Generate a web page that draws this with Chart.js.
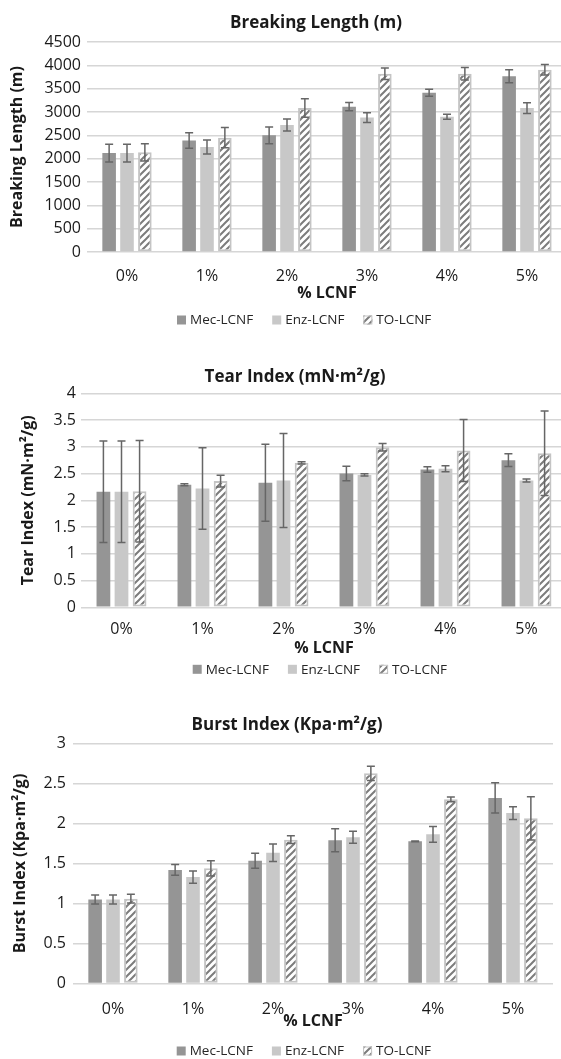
<!DOCTYPE html>
<html>
<head>
<meta charset="utf-8">
<script src="https://cdn.jsdelivr.net/npm/chart.js@4.4.1/dist/chart.umd.min.js"></script>
<style>
  html, body { margin: 0; padding: 0; background: #fff; overflow: hidden; width: 561px; height: 1059px; }
  .box { position: absolute; left: 0; width: 600px; }
</style>
</head>
<body>
<div class="box" style="top:0;height:340px"><canvas id="breaking"></canvas></div>
<div class="box" style="top:340px;height:350px"><canvas id="tear"></canvas></div>
<div class="box" style="top:690px;height:369px"><canvas id="burst"></canvas></div>
<script>
// --- data ---
const categories = ['0%', '1%', '2%', '3%', '4%', '5%'];
const seriesNames = ['Mec-LCNF', 'Enz-LCNF', 'TO-LCNF'];

const breakMec = [2120, 2390, 2500, 3115, 3415, 3765];
const breakMecErr = [190, 168, 178, 89, 75, 140];
const breakEnz = [2120, 2250, 2720, 2880, 2900, 3085];
const breakEnzErr = [190, 150, 128, 104, 54, 115];
const breakTo = [2135, 2450, 3085, 3820, 3820, 3905];
const breakToErr = [185, 218, 200, 121, 136, 111];

const tearMec = [2.16, 2.29, 2.33, 2.50, 2.575, 2.75];
const tearMecErr = [0.95, 0.02, 0.72, 0.135, 0.05, 0.12];
const tearEnz = [2.16, 2.22, 2.37, 2.475, 2.59, 2.37];
const tearEnzErr = [0.95, 0.76, 0.88, 0.02, 0.055, 0.03];
const tearTo = [2.17, 2.36, 2.70, 2.99, 2.93, 2.88];
const tearToErr = [0.95, 0.11, 0.02, 0.07, 0.58, 0.79];

const burstMec = [1.05, 1.42, 1.535, 1.79, 1.777, 2.32];
const burstMecErr = [0.055, 0.067, 0.094, 0.143, 0.005, 0.19];
const burstEnz = [1.05, 1.33, 1.635, 1.827, 1.865, 2.13];
const burstEnzErr = [0.055, 0.077, 0.11, 0.075, 0.098, 0.08];
const burstTo = [1.06, 1.44, 1.798, 2.627, 2.302, 2.065];
const burstToErr = [0.055, 0.095, 0.048, 0.09, 0.03, 0.27];

const FONT = "'Open Sans', sans-serif";
const INK = '#1a1a1a';
const MEC = '#959595';
const ENZ = '#c8c8c8';
const EDGE = '#c4c4c4';
const GRID = '#d6d6d6';
const ERR = '#666666';

function hatch() {
  const t = document.createElement('canvas');
  t.width = t.height = 7;
  const g = t.getContext('2d');
  g.fillStyle = '#fff';
  g.fillRect(0, 0, 7, 7);
  g.strokeStyle = '#7c7c7c';
  g.lineWidth = 2;
  g.beginPath();
  g.moveTo(-1, 8); g.lineTo(8, -1);
  g.moveTo(-1, 1); g.lineTo(1, -1);
  g.moveTo(6, 8); g.lineTo(8, 6);
  g.stroke();
  return g.createPattern(t, 'repeat');
}

// error bars from each dataset's `errors` list
const errorBars = {
  id: 'errorBars',
  afterDatasetsDraw(chart) {
    const { ctx, scales: { y } } = chart;
    ctx.save();
    ctx.strokeStyle = ERR;
    ctx.lineWidth = 1.5;
    chart.data.datasets.forEach((ds, i) => {
      chart.getDatasetMeta(i).data.forEach((bar, j) => {
        const hi = y.getPixelForValue(ds.data[j] + ds.errors[j]);
        const lo = y.getPixelForValue(ds.data[j] - ds.errors[j]);
        ctx.beginPath();
        ctx.moveTo(bar.x, hi); ctx.lineTo(bar.x, lo);
        ctx.moveTo(bar.x - 4, hi); ctx.lineTo(bar.x + 4, hi);
        ctx.moveTo(bar.x - 4, lo); ctx.lineTo(bar.x + 4, lo);
        ctx.stroke();
      });
    });
    ctx.restore();
  }
};

// chart title and legend row, placed like the Excel figure
const overlay = {
  id: 'overlay',
  afterDraw(chart, args, o) {
    const ctx = chart.ctx;
    ctx.save();
    ctx.fillStyle = INK;
    ctx.textBaseline = 'middle';
    ctx.textAlign = 'center';
    ctx.font = `bold 17px ${FONT}`;
    ctx.fillText(o.title, o.titleX, o.titleY);

    ctx.font = `13.5px ${FONT}`;
    ctx.textAlign = 'left';
    let x = o.legendX;
    chart.data.datasets.forEach((ds) => {
      ctx.fillStyle = ds.backgroundColor;
      ctx.fillRect(x, o.legendY - 4.5, 9, 9);
      if (ds.borderWidth) {
        ctx.strokeStyle = ds.borderColor;
        ctx.lineWidth = 1;
        ctx.strokeRect(x + 0.5, o.legendY - 4, 8, 8);
      }
      ctx.fillStyle = '#262626';
      ctx.fillText(ds.label, x + 13, o.legendY + 0.5);
      x += 13 + ctx.measureText(ds.label).width + 19;
    });
    ctx.restore();
  }
};

function makeChart(id, c) {
  return new Chart(document.getElementById(id), {
    type: 'bar',
    data: {
      labels: categories,
      datasets: [
        { label: seriesNames[0], data: c.mec, errors: c.mecErr, backgroundColor: MEC },
        { label: seriesNames[1], data: c.enz, errors: c.enzErr, backgroundColor: ENZ },
        { label: seriesNames[2], data: c.to, errors: c.toErr, backgroundColor: hatch(),
          borderColor: EDGE, borderWidth: 2, borderSkipped: false },
      ],
    },
    options: {
      responsive: true,
      maintainAspectRatio: false,
      animation: false,
      datasets: { bar: { categoryPercentage: 0.67, barPercentage: 0.76 } },
      layout: { padding: { top: c.plotTop, bottom: c.padBottom, right: c.padRight, left: 0 } },
      plugins: {
        legend: { display: false },
        tooltip: { enabled: false },
        overlay: { title: c.title, titleX: c.titleX, titleY: c.titleY, legendX: c.legendX, legendY: c.legendY },
      },
      scales: {
        x: {
          grid: { display: false },
          border: { display: false },
          ticks: { padding: c.xTickPad, color: INK, font: { family: FONT, size: 16 } },
          title: { display: true, text: '% LCNF', color: INK, padding: 0,
                   font: { family: FONT, size: 16, weight: 'bold' } },
          afterFit: (s) => { s.height = c.xHeight; },
        },
        y: {
          min: 0,
          max: c.max,
          ticks: { stepSize: c.step, padding: c.yTickPad, color: INK,
                   font: { family: FONT, size: 16 }, callback: (v) => String(v) },
          grid: { color: GRID, lineWidth: 1.5, drawTicks: false },
          border: { display: false },
          title: { display: true, text: c.title, color: INK, padding: { top: c.yTitlePad, bottom: 0 },
                   font: { family: FONT, size: 16, weight: 'bold' } },
          afterFit: (s) => { s.width = c.plotLeft; },
        },
      },
    },
    plugins: [errorBars, overlay],
  });
}

makeChart('breaking', {
  title: 'Breaking Length (m)', max: 4500, step: 500,
  mec: breakMec, mecErr: breakMecErr, enz: breakEnz, enzErr: breakEnzErr, to: breakTo, toErr: breakToErr,
  plotTop: 42, padBottom: 37, padRight: 33, plotLeft: 87, xHeight: 51,
  xTickPad: 7, yTickPad: 6, yTitlePad: 8,
  titleX: 316, titleY: 23, legendX: 177, legendY: 320,
});

makeChart('tear', {
  title: 'Tear Index (mN·m²/g)', max: 4, step: 0.5,
  mec: tearMec, mecErr: tearMecErr, enz: tearEnz, enzErr: tearEnzErr, to: tearTo, toErr: tearToErr,
  plotTop: 53.3, padBottom: 31.7, padRight: 33, plotLeft: 81, xHeight: 51,
  xTickPad: 5, yTickPad: 5, yTitlePad: 19,
  titleX: 295, titleY: 36.7, legendX: 192.7, legendY: 329.3,
});

makeChart('burst', {
  title: 'Burst Index (Kpa·m²/g)', max: 3, step: 0.5,
  mec: burstMec, mecErr: burstMecErr, enz: burstEnz, enzErr: burstEnzErr, to: burstTo, toErr: burstToErr,
  plotTop: 53.5, padBottom: 27.5, padRight: 47, plotLeft: 73, xHeight: 48,
  xTickPad: 8, yTickPad: 7, yTitlePad: 11,
  titleX: 287, titleY: 35, legendX: 176.7, legendY: 361,
});
</script>
</body>
</html>
